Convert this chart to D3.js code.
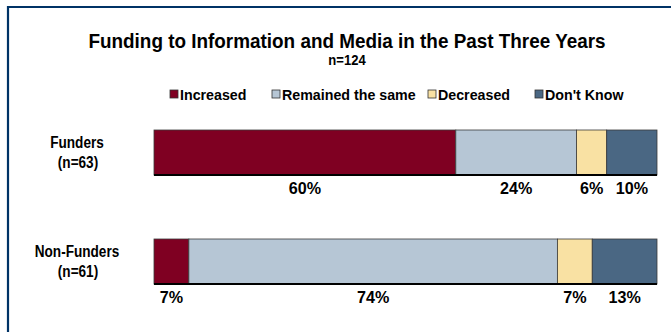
<!DOCTYPE html>
<html>
<head>
<meta charset="utf-8">
<script src="https://cdn.jsdelivr.net/npm/d3@7/dist/d3.min.js"></script>
<style>
  html, body { margin: 0; padding: 0; background: #ffffff; }
  svg { display: block; }
  text { font-family: "Liberation Sans", Arial, sans-serif; font-weight: bold; fill: #000; }
</style>
</head>
<body>
<svg id="chart" width="671" height="332"></svg>
<script>
// Response groups and their answers (percent of respondents)
const groups = ["Funders", "Non-Funders"];
const groupSizes = ["(n=63)", "(n=61)"];
const responses = ["Increased", "Remained the same", "Decreased", "Don't Know"];
const funders = [60, 24, 6, 10];
const nonFunders = [7, 74, 7, 13];
const colors = ["#7f0022", "#b6c6d5", "#f9e1a3", "#4a6783"];

const title = "Funding to Information and Media in the Past Three Years";
const subtitle = "n=124";

const width = 671, height = 332;
const svg = d3.select("#chart");

// condensed bold text helper
function label(parent, x, y, str, size, sx, anchor) {
  return parent.append("text")
    .attr("transform", `translate(${x},${y}) scale(${sx},1)`)
    .attr("text-anchor", anchor || "start")
    .attr("font-size", size)
    .text(str);
}

// Navy frame across the top and down the left side
svg.append("path")
  .attr("d", `M8,${height} V7 H${width}`)
  .attr("fill", "none")
  .attr("stroke", "#003366")
  .attr("stroke-width", 2.2);

label(svg, 347, 48, title, 21, 0.9, "middle");
label(svg, 347, 65, subtitle, 14.5, 0.9, "middle");

// Legend
const legendX = [170, 272, 428, 535];
const legend = svg.append("g").selectAll("g")
  .data(responses)
  .join("g")
  .attr("transform", (d, i) => `translate(${legendX[i]},95)`);
legend.append("rect")
  .attr("x", 0).attr("y", -5)
  .attr("width", 8).attr("height", 8)
  .attr("fill", (d, i) => colors[i])
  .attr("stroke", "#333").attr("stroke-width", 0.8);
legend.each(function (d) {
  label(d3.select(this), 10, 5, d, 15, 0.95);
});

// Scales
const rows = [funders, nonFunders];
const x = d3.scaleLinear().domain([0, 1]).range([154, 657]);
const y = d3.scaleBand().domain(groups).range([130, 284]).paddingInner(64 / 109).paddingOuter(0);

rows.forEach((vals, r) => {
  const total = d3.sum(vals);
  const cum = d3.cumsum(vals);
  const segs = vals.map((v, i) => ({ v, i, start: (cum[i] - v) / total, end: cum[i] / total }));
  const g = svg.append("g");
  const y0 = y(groups[r]), bh = y.bandwidth();

  g.selectAll("rect")
    .data(segs)
    .join("rect")
    .attr("x", d => x(d.start))
    .attr("y", y0)
    .attr("width", d => x(d.end) - x(d.start))
    .attr("height", bh)
    .attr("fill", d => colors[d.i])
    .attr("stroke", "#3a3a3a")
    .attr("stroke-width", 0.8);

  // heavy baseline under each bar
  g.append("line")
    .attr("x1", x(0)).attr("x2", x(1))
    .attr("y1", y0 + bh).attr("y2", y0 + bh)
    .attr("stroke", "#000").attr("stroke-width", 2);

  segs.forEach(d => {
    label(g, (x(d.start) + x(d.end)) / 2, y0 + bh + 19, d.v + "%", 17, 0.95, "middle");
  });

  // row labels
  label(svg, 77, y0 + 18, groups[r], 17, 0.8, "middle");
  label(svg, 78, y0 + 38, groupSizes[r], 17, 0.8, "middle");
});
</script>
</body>
</html>
